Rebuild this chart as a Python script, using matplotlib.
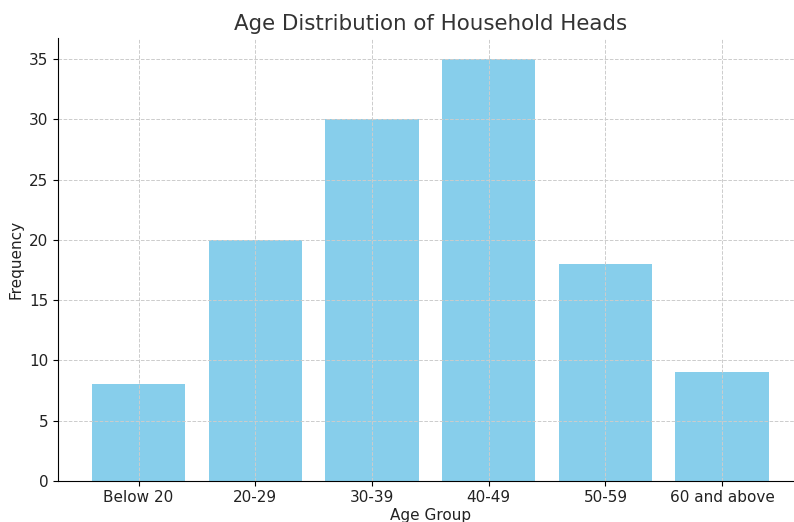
import matplotlib
matplotlib.use('Agg')
import matplotlib.pyplot as plt

age_groups = ['Below 20', '20-29', '30-39', '40-49', '50-59', '60 and above']
frequency = [8, 20, 30, 35, 18, 9]

fig, ax = plt.subplots(figsize=(7.94, 5.22), dpi=100)
ax.bar(age_groups, frequency, color='skyblue')

ax.set_title('Age Distribution of Household Heads', fontsize=15.4, color='#333333', pad=6)
ax.set_xlabel('Age Group', fontsize=11, labelpad=2, color='#222222')
ax.set_ylabel('Frequency', fontsize=11, color='#222222')
ax.tick_params(labelsize=11, labelcolor='#222222')
ax.grid(True, linestyle='--', color='#cccccc', linewidth=0.7)
ax.spines['top'].set_visible(False)
ax.spines['right'].set_visible(False)

# the original was cropped on the right, so the axes run past the figure edge
plt.subplots_adjust(left=0.073, right=1.011, top=0.927, bottom=0.079)
fig.savefig('out.png')
